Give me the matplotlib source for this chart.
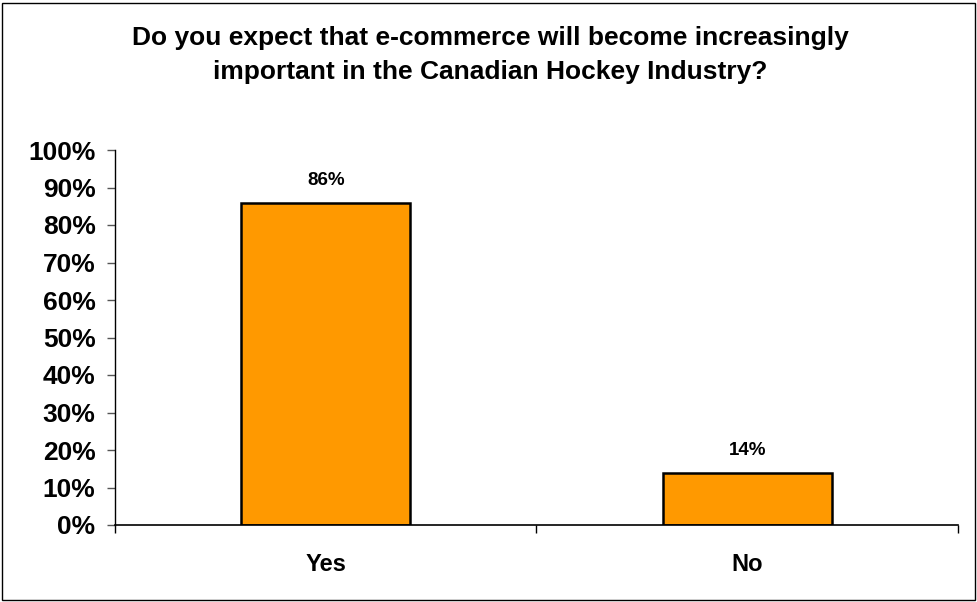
import matplotlib
matplotlib.use("Agg")
import matplotlib.pyplot as plt
from matplotlib.patches import Rectangle
from matplotlib.ticker import FixedLocator

categories = ["Yes", "No"]
shares = [86, 14]
ytick_values = [0, 10, 20, 30, 40, 50, 60, 70, 80, 90, 100]
ytick_labels = [f"{v}%" for v in ytick_values]
title = ("Do you expect that e-commerce will become increasingly\n"
         "important in the Canadian Hockey Industry?")

plt.rcParams["font.family"] = ["Liberation Sans", "DejaVu Sans"]
plt.rcParams["font.weight"] = "bold"

W, H = 978, 602
fig = plt.figure(figsize=(W / 100, H / 100), dpi=100)
ax = fig.add_axes([115 / W, (H - 525) / H, (958 - 115) / W, (525 - 150) / H])

x = list(range(len(categories)))
bars = ax.bar(x, shares, width=0.4, color="#FF9900", edgecolor="black", linewidth=1.8)

for xi, v in zip(x, shares):
    ax.text(xi, v + 5.8, f"{v}%", ha="center", va="center", fontsize=13.5, fontweight="bold")

ax.set_xlim(-0.5, len(categories) - 0.5)
ax.set_ylim(0, 100)
ax.set_yticks(ytick_values)
ax.set_yticklabels(ytick_labels, fontsize=19, fontweight="bold")
ax.set_xticks(x)
ax.set_xticklabels(categories, fontsize=17, fontweight="bold")
ax.tick_params(axis="x", which="major", length=0, pad=20)
ax.xaxis.set_minor_locator(FixedLocator([i - 0.5 for i in range(len(categories) + 1)]))
ax.tick_params(axis="x", which="minor", length=6, width=1, color="black", direction="out")
ax.tick_params(axis="y", length=6, width=1, color="#555555", direction="out", pad=8)

for side in ("top", "right"):
    ax.spines[side].set_visible(False)
ax.spines["left"].set_linewidth(1)
ax.spines["bottom"].set_linewidth(1.2)

fig.text(490 / W, 1 - 55 / H, title, ha="center", va="center", fontsize=19,
         fontweight="bold", linespacing=1.5)

fig.patches.append(Rectangle((2 / W, 2 / H), (975 - 2) / W, (599 - 2) / H,
                             transform=fig.transFigure, fill=False,
                             edgecolor="black", linewidth=1))

fig.savefig("out.png", dpi=100)
